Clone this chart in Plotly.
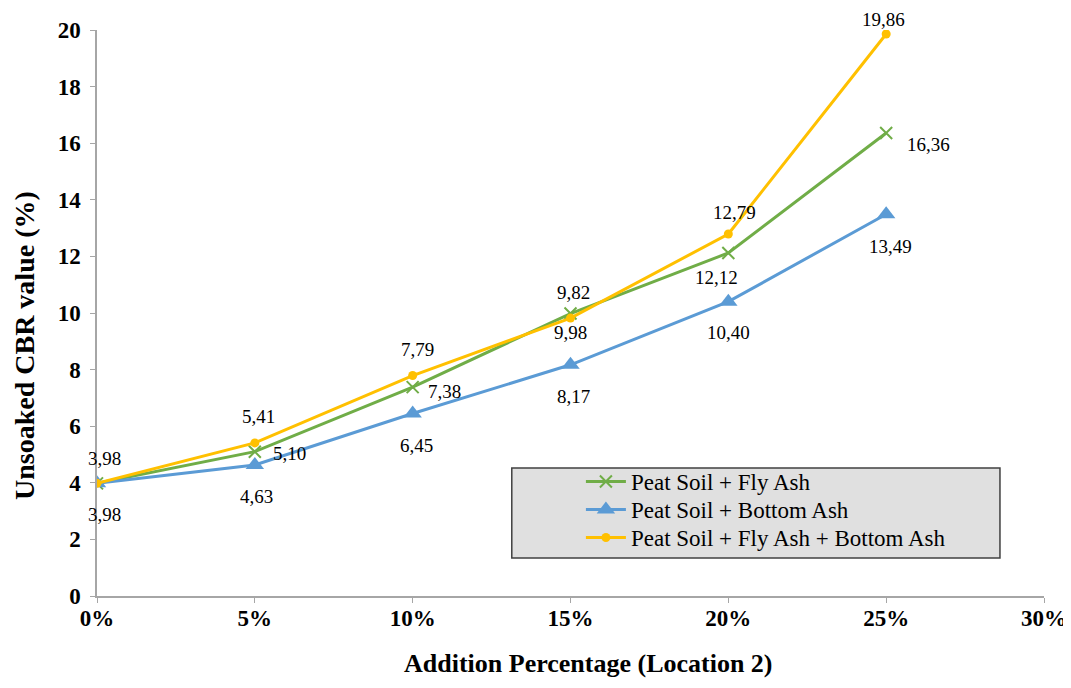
import plotly.graph_objects as go

x_pct = [0, 5, 10, 15, 20, 25]
fly_ash = [3.98, 5.10, 7.38, 9.98, 12.12, 16.36]
bottom_ash = [3.98, 4.63, 6.45, 8.17, 10.40, 13.49]
combined = [3.98, 5.41, 7.79, 9.82, 12.79, 19.86]

names = ["Peat Soil + Fly Ash", "Peat Soil + Bottom Ash", "Peat Soil + Fly Ash + Bottom Ash"]
x_ticks = [0, 5, 10, 15, 20, 25, 30]
y_ticks = [0, 2, 4, 6, 8, 10, 12, 14, 16, 18, 20]

# label offsets in pixels (dx, dy with dy downward); None = label not shown
fly_off = [None, (35, 2), (32, 4), (0, 19), (-12, 24), (42, 11)]
bot_off = [(7, 31), (2, 32), (4, 32), (3, 32), (0, 31), (4, 32)]
com_off = [(7, -25), (4, -26), (5, -26), (3, -26), (6, -22), (-3, -14)]


def fmt(v):
    return f"{v:.2f}".replace(".", ",")


SERIF = "Liberation Serif, Times New Roman, serif"
fig = go.Figure()

fig.add_trace(go.Scatter(
    x=x_pct, y=fly_ash, name=names[0], mode="lines+markers", legend="legend",
    line=dict(color="#70AD47", width=3),
    marker=dict(symbol="x-thin", size=12, line=dict(color="#70AD47", width=2)),
))
fig.add_trace(go.Scatter(
    x=x_pct, y=bottom_ash, name=names[1], mode="lines+markers", legend="legend2",
    line=dict(color="#5B9BD5", width=3),
    marker=dict(symbol="triangle-up", size=16, color="#5B9BD5"),
))
fig.add_trace(go.Scatter(
    x=x_pct, y=combined, name=names[2], mode="lines+markers", legend="legend3",
    line=dict(color="#FFC000", width=3),
    marker=dict(symbol="circle", size=9, color="#FFC000"),
))

for vals, offs in [(fly_ash, fly_off), (bottom_ash, bot_off), (combined, com_off)]:
    for xv, yv, off in zip(x_pct, vals, offs):
        if off is None:
            continue
        fig.add_annotation(x=xv, y=yv, text=fmt(yv), showarrow=False,
                           xshift=off[0], yshift=-off[1],
                           font=dict(family=SERIF, size=19, color="black"))

# axis titles
fig.add_annotation(xref="paper", yref="paper", x=0.5185, y=-0.120, yanchor="middle",
                   text="<b>Addition Percentage (Location 2)</b>", showarrow=False,
                   font=dict(family=SERIF, size=26, color="black"))
fig.add_annotation(xref="paper", yref="paper", x=-0.076, y=0.4417, xanchor="center", yanchor="middle",
                   textangle=-90, text="<b>Unsoaked CBR value (%)</b>", showarrow=False,
                   font=dict(family=SERIF, size=28, color="black"))

fig.add_shape(type="rect", xref="paper", yref="paper",
              x0=0.438, x1=0.9535, y0=0.067, y1=0.226,
              fillcolor="#E0E0E0", line=dict(color="#404040", width=1.5), layer="below")

leg_common = dict(x=0.511, xanchor="left", yanchor="top", bgcolor="rgba(0,0,0,0)", borderwidth=0,
                  font=dict(family=SERIF, size=23, color="black"), itemwidth=40)

fig.update_layout(
    width=1063, height=680,
    paper_bgcolor="white", plot_bgcolor="white",
    margin=dict(l=89, r=27, t=22, b=92),
    font=dict(family=SERIF, color="black"),
    showlegend=True,
    legend=dict(y=0.2403, **leg_common),
    legend2=dict(y=0.1908, **leg_common),
    legend3=dict(y=0.1413, **leg_common),
    xaxis=dict(range=[0, 30], tickvals=x_ticks, ticktext=[f"{t}%" for t in x_ticks],
               automargin=False,
               showgrid=False, zeroline=False, showline=True, linecolor="#A6A6A6", linewidth=1.5,
               ticks="outside", ticklen=5, tickcolor="#A6A6A6", ticklabelstandoff=-4,
               tickfont=dict(family=SERIF, size=23, color="black", weight="bold")),
    yaxis=dict(range=[0, 20], tickvals=y_ticks, automargin=False,
               showgrid=False, zeroline=False, showline=True, linecolor="#A6A6A6", linewidth=1.5,
               ticks="outside", ticklen=5, tickcolor="#A6A6A6", ticklabelstandoff=5,
               tickfont=dict(family=SERIF, size=23, color="black", weight="bold")),
)

fig.write_html("out.html")
